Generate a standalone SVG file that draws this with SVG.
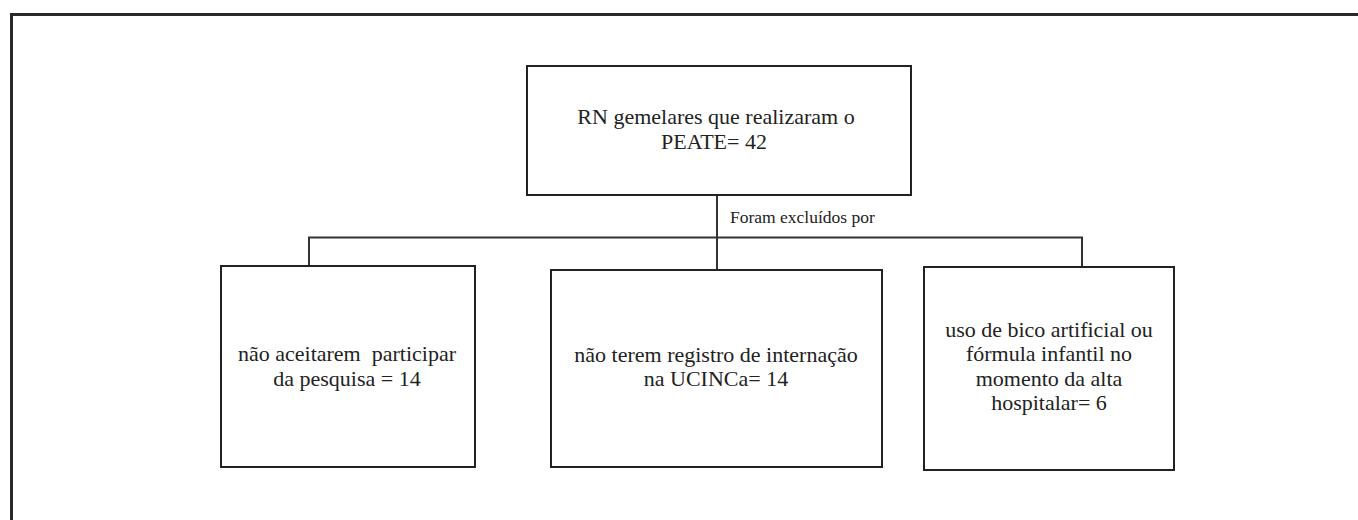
<svg xmlns="http://www.w3.org/2000/svg" width="1358" height="520" viewBox="0 0 1358 520">
<style>
.box{fill:#fff;stroke:#222;stroke-width:2}
.t{font-family:"Liberation Serif","Times New Roman",serif;font-size:22px;fill:#222;text-anchor:middle}
.lbl{font-family:"Liberation Serif","Times New Roman",serif;font-size:17.5px;fill:#222}
.c{fill:none;stroke:#333;stroke-width:2}
</style>
<rect x="0" y="0" width="1358" height="520" fill="#fff"/>
<path d="M11.5,530 V14.5 H1370" fill="none" stroke="#2a2a2a" stroke-width="3"/>
<g id="connectors">
<line class="c" x1="717" y1="195" x2="717" y2="270"/>
<polyline class="c" points="309,266 309,237.5 1082,237.5 1082,267"/>
</g>
<text class="lbl" x="730" y="223">Foram excluídos por</text>
<g id="n-top">
<rect class="box" x="527" y="66" width="384" height="129"/>
<text class="t"><tspan x="716" y="124">RN gemelares que realizaram o</tspan><tspan x="714" y="148.5">PEATE= 42</tspan></text>
</g>
<g id="n-left">
<rect class="box" x="221" y="266" width="254" height="201"/>
<text class="t" xml:space="preserve"><tspan x="347" y="361">não aceitarem  participar</tspan><tspan x="347" y="385.5">da pesquisa = 14</tspan></text>
</g>
<g id="n-mid">
<rect class="box" x="551" y="270" width="331" height="197"/>
<text class="t"><tspan x="716" y="361.5">não terem registro de internação</tspan><tspan x="716" y="386">na UCINCa= 14</tspan></text>
</g>
<g id="n-right">
<rect class="box" x="924" y="267" width="250" height="203"/>
<text class="t"><tspan x="1049" y="336.5">uso de bico artificial ou</tspan><tspan x="1049" y="361">fórmula infantil no</tspan><tspan x="1049" y="385.5">momento da alta</tspan><tspan x="1049" y="410">hospitalar= 6</tspan></text>
</g>
</svg>
